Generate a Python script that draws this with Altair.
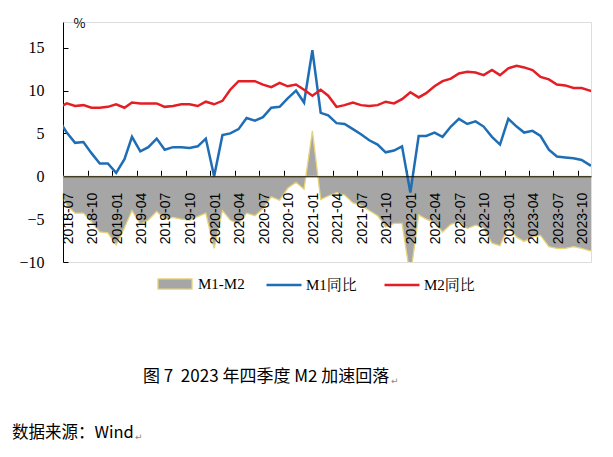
import altair as alt
import pandas as pd

# Monthly data, 2018-06 .. 2023-12 (points sit mid-month)
months = [d.strftime("%Y-%m-15") for d in pd.date_range("2018-06-01", "2023-12-01", freq="MS")]

m1_yoy = [6.6, 5.1, 3.9, 4.0, 2.7, 1.5, 1.5,
          0.4, 2.0, 4.6, 2.9, 3.4, 4.4, 3.1, 3.4, 3.4, 3.3, 3.5, 4.4,
          0.0, 4.8, 5.0, 5.5, 6.8, 6.5, 6.9, 8.0, 8.1, 9.1, 10.0, 8.6,
          14.7, 7.4, 7.1, 6.2, 6.1, 5.5, 4.9, 4.2, 3.7, 2.8, 3.0, 3.5,
          -1.9, 4.7, 4.7, 5.1, 4.6, 5.8, 6.7, 6.1, 6.4, 5.8, 4.6, 3.7,
          6.7, 5.8, 5.1, 5.3, 4.7, 3.1, 2.3, 2.2, 2.1, 1.9, 1.3, 1.3]

m2_yoy = [8.0, 8.5, 8.2, 8.3, 8.0, 8.0, 8.1,
          8.4, 8.0, 8.6, 8.5, 8.5, 8.5, 8.1, 8.2, 8.4, 8.4, 8.2, 8.7,
          8.4, 8.8, 10.1, 11.1, 11.1, 11.1, 10.7, 10.4, 10.9, 10.5, 10.7, 10.1,
          9.4, 10.1, 9.4, 8.1, 8.3, 8.6, 8.3, 8.2, 8.3, 8.7, 8.5, 9.0,
          9.8, 9.2, 9.7, 10.5, 11.1, 11.4, 12.0, 12.2, 12.1, 11.8, 12.4, 11.8,
          12.6, 12.9, 12.7, 12.4, 11.6, 11.3, 10.7, 10.6, 10.3, 10.3, 10.0, 9.7]

m1_m2 = [-1.4, -3.4, -4.3, -4.3, -5.3, -6.5, -6.6,
         -8.0, -6.0, -4.0, -5.6, -5.1, -4.1, -5.0, -4.8, -5.0, -5.1, -4.7, -4.3,
         -8.4, -4.0, -5.1, -5.6, -4.3, -4.6, -3.8, -2.4, -2.8, -1.4, -0.7, -1.5,
         5.3, -2.7, -2.3, -1.9, -2.2, -3.1, -3.4, -4.0, -4.6, -5.9, -5.5, -5.5,
         -11.7, -4.5, -5.0, -5.4, -6.5, -5.6, -5.3, -6.1, -5.7, -6.0, -7.8, -8.1,
         -5.9, -7.1, -7.6, -7.1, -6.9, -8.2, -8.4, -8.4, -8.2, -8.4, -8.7, -8.4]

series_names = ["M1同比", "M2同比"]
area_name = "M1-M2"
y_ticks = [-10, -5, 0, 5, 10, 15]
x_tick_months = [(y, m) for y in range(2018, 2024) for m in (1, 4, 7, 10)
                 if (y, m) >= (2018, 7)]

NB = "\u00a0"
title_text = f"图{NB}7{NB}{NB}2023{NB}年四季度{NB}M2{NB}加速回落"
source_text = "数据来源：Wind"

W, H = 528, 240
Y_MIN, Y_MAX = -10, 18
zero_from_top = H * Y_MAX / (Y_MAX - Y_MIN)
zero_from_bottom = H - zero_from_top

BLUE, RED, GREY, TAN = "#1F6EB5", "#E31E24", "#A6A6A6", "#E6D37A"
SERIF = "Liberation Serif, Noto Serif CJK SC, Noto Sans CJK SC"
SANS = "Liberation Sans, Arial"
CJK = "Noto Sans CJK SC"

area_df = pd.DataFrame({"date": months, "spread": m1_m2, "name": area_name})
line_df = pd.DataFrame({
    "date": months * 2,
    "value": m1_yoy + m2_yoy,
    "series": [series_names[0]] * len(months) + [series_names[1]] * len(months),
})

x_scale = alt.Scale(type="utc",
                    domain=[alt.DateTime(year=2018, month=7, date=1, utc=True),
                            alt.DateTime(year=2023, month=11, date=19, utc=True)])
y_scale = alt.Scale(domain=[Y_MIN, Y_MAX], nice=False, zero=False)
tick_vals = [alt.DateTime(year=y, month=m, date=1, utc=True) for y, m in x_tick_months]

area = alt.Chart(area_df).mark_area(
    clip=True, stroke=TAN, strokeWidth=1.3, opacity=1
).encode(
    x=alt.X("date:T", scale=x_scale,
            axis=alt.Axis(orient="bottom", offset=-zero_from_bottom, values=tick_vals,
                          format="%Y-%m", labelAngle=270, labelAlign="right",
                          labelBaseline="middle", labelOffset=5, labelPadding=16,
                          ticks=False, tickSize=0, domainColor="black", domainWidth=1,
                          labelFont=SANS, labelFontSize=14, labelColor="black",
                          grid=False, title=None, labelOverlap=False, labelFlush=False,
                          zindex=1)),
    y=alt.Y("spread:Q", scale=y_scale,
            axis=alt.Axis(orient="left", values=y_ticks, ticks=False, tickSize=0,
                          labelPadding=19, labelFont=SERIF, labelFontSize=16,
                          labelColor="black", domainColor="black", domainWidth=1,
                          grid=False, title="%", titleAngle=0, titleX=16, titleY=1,
                          titleFont=CJK, titleFontSize=13, titleFontWeight="normal",
                          titleAlign="center", titleBaseline="middle", titleColor="black")),
    y2=alt.datum(0),
    fill=alt.Fill("name:N", scale=alt.Scale(domain=[area_name], range=[GREY]),
                  legend=alt.Legend(title=None, orient="none", legendX=94, legendY=244,
                                    symbolType="M-1,-0.3L1,-0.3L1,0.3L-1,0.3Z",
                                    symbolSize=1156,
                                    symbolStrokeColor=TAN, symbolStrokeWidth=1.3,
                                    symbolFillColor=GREY, symbolOpacity=1,
                                    labelFont=SERIF, labelFontSize=15, labelColor="black",
                                    labelOffset=5, padding=0, offset=0)),
)

lines = alt.Chart(line_df).mark_line(clip=True, strokeWidth=2.5).encode(
    x=alt.X("date:T", scale=x_scale,
            axis=alt.Axis(orient="top", offset=-zero_from_top, values=tick_vals,
                          labels=False, domain=False, ticks=True, tickSize=6,
                          tickColor="black", tickWidth=1, grid=False, title=None)),
    y=alt.Y("value:Q", scale=y_scale,
            axis=alt.Axis(orient="right", offset=-W, values=y_ticks, labels=False,
                          domain=False, ticks=True, tickSize=5, tickColor="black",
                          tickWidth=1, grid=False, title=None)),
    stroke=alt.Stroke("series:N",
                      scale=alt.Scale(domain=series_names, range=[BLUE, RED]),
                      legend=alt.Legend(title=None, orient="none", legendX=202, legendY=244,
                                        direction="horizontal", symbolType="stroke",
                                        symbolSize=1225, symbolStrokeWidth=2.5,
                                        labelFont=SERIF, labelFontSize=15,
                                        labelColor="black", labelOffset=3,
                                        columnPadding=22, padding=0, offset=0)),
    detail="series:N",
)

one = pd.DataFrame({"k": [0]})
title_mark = alt.Chart(one).mark_text(
    text=title_text, font=CJK, fontSize=17, align="left", baseline="middle", color="black"
).encode(x=alt.value(80), y=alt.value(355))
title_ret = alt.Chart(one).mark_text(
    text="↵", font="DejaVu Sans", fontSize=9, align="left", baseline="middle", color="#888888"
).encode(x=alt.value(328), y=alt.value(359))
source_mark = alt.Chart(one).mark_text(
    text=source_text, font=CJK, fontSize=16.5, align="left", baseline="middle", color="black"
).encode(x=alt.value(-51), y=alt.value(411))
source_ret = alt.Chart(one).mark_text(
    text="↵", font="DejaVu Sans", fontSize=9, align="left", baseline="middle", color="#888888"
).encode(x=alt.value(72), y=alt.value(415))

chart = alt.layer(area, lines, title_mark, title_ret, source_mark, source_ret).resolve_axis(
    x="independent", y="independent"
).resolve_legend(fill="independent", stroke="independent").properties(
    width=W, height=H,
    autosize=alt.AutoSizeParams(type="none"),
    padding={"left": 55, "top": 14, "right": 14, "bottom": 185},
).configure_view(stroke=None).configure(background="white")

chart.save("out.html", embed_options={"renderer": "svg", "actions": False})
